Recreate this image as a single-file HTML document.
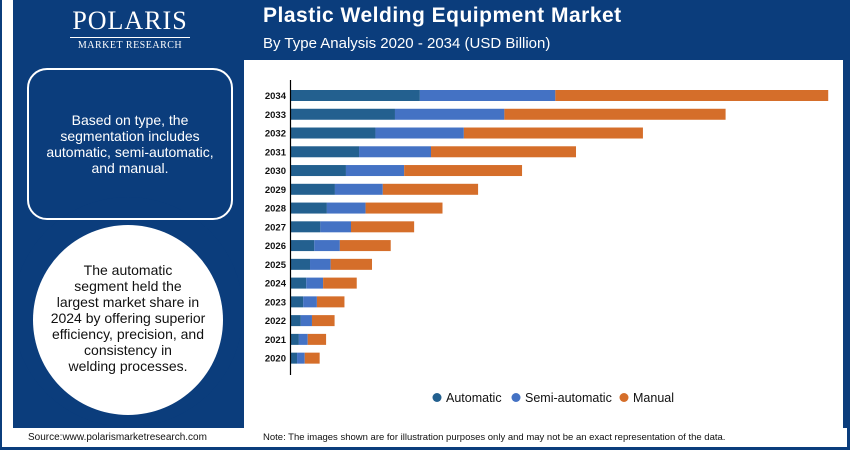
<!DOCTYPE html>
<html><head><meta charset="utf-8">
<style>
body{margin:0;width:850px;height:450px;overflow:hidden;background:#0b3d7c;font-family:"Liberation Sans",sans-serif;position:relative}
.abs{position:absolute}
</style></head><body>
<div class="abs" style="left:2px;top:0;width:11px;height:428px;background:#fff"></div>
<div class="abs" style="left:244px;top:60px;width:599px;height:368px;background:#fff"></div>
<div class="abs" style="left:13px;top:197px;width:230px;height:230px;border-radius:50%;background:#0b3d7c"></div>
<div class="abs" style="left:2px;top:428px;width:845px;height:19px;background:#fff"></div>
<div class="abs" style="left:60px;top:8px;width:140px;text-align:center;color:#fff">
<div style="font-family:'Liberation Serif',serif;font-size:26px;letter-spacing:1px;line-height:26px">POLARIS</div>
<div style="border-top:1px solid #fff;margin:3px 10px 0;font-family:'Liberation Serif',serif;font-size:10px;padding-top:2px;letter-spacing:0.5px">MARKET RESEARCH</div></div>
<div class="abs" style="left:263px;top:4px;color:#fff;font-weight:bold;font-size:21px;letter-spacing:0.5px">Plastic Welding Equipment Market</div>
<div class="abs" style="left:263px;top:35px;color:#fff;font-size:15px">By Type Analysis 2020 - 2034 (USD Billion)</div>
<div class="abs" style="left:27px;top:68px;width:202px;height:148px;border:2px solid #fff;border-radius:20px;color:#fff;font-size:14px;line-height:16px;text-align:center;display:flex;align-items:center;justify-content:center"><div style="width:178px">Based on type, the segmentation includes automatic, semi-automatic, and manual.</div></div>
<div class="abs" style="left:33px;top:225px;width:190px;height:190px;border-radius:50%;background:#fff;color:#111;font-size:14px;line-height:16px;text-align:center;display:flex;align-items:center;justify-content:center"><div style="width:166px;margin-top:-4px">The automatic<br>segment held the<br>largest market share in<br>2024 by offering superior<br>efficiency, precision, and<br>consistency in<br>welding processes.</div></div>
<div class="abs" style="left:28px;top:432px;font-size:10px;color:#111">Source:www.polarismarketresearch.com</div>
<div class="abs" style="left:263px;top:432px;font-size:9.5px;color:#111">Note: The images shown are for illustration purposes only and may not be an exact representation of the data.</div>
<svg class="abs" style="left:0;top:0" width="850" height="450" id="chart"></svg>
<script>
const years=["2034","2033","2032","2031","2030","2029","2028","2027","2026","2025","2024","2023","2022","2021","2020"];
const automatic=[11.27,9.1,7.4,5.97,4.83,3.87,3.17,2.6,2.07,1.7,1.37,1.1,0.9,0.73,0.57];
const semiAutomatic=[11.8,9.53,7.7,6.27,5.07,4.17,3.37,2.67,2.23,1.8,1.47,1.2,0.97,0.77,0.67];
const manual=[23.77,19.27,15.6,12.63,10.27,8.3,6.7,5.5,4.43,3.6,2.93,2.4,1.97,1.6,1.3];
const seriesNames=["Automatic","Semi-automatic","Manual"];
const colors=["#23608f","#4472c4","#d56e2a"];
const svg=document.getElementById('chart');const NS="http://www.w3.org/2000/svg";
const x0=290.5,pxPer=11.48,y0=90,step=18.76,bh=11;
const xs=v=>x0+v*pxPer, ys=i=>y0+i*step;
function mk(t,a){const e=document.createElementNS(NS,t);for(const k in a)e.setAttribute(k,a[k]);svg.appendChild(e);return e;}
const series=[automatic,semiAutomatic,manual];
years.forEach((y,i)=>{let acc=0;
 series.forEach((s,j)=>{const r=mk('rect',{x:xs(acc),y:ys(i),width:s[i]*pxPer,height:bh,fill:colors[j]});
 
 acc+=s[i];});
 const t=mk('text',{x:286,y:ys(i)+bh/2+3.5,'text-anchor':'end','font-size':'9.5','font-weight':'bold',fill:'#111','font-family':'Liberation Sans'});t.textContent=y;
 
 });
const ax=mk('line',{x1:x0,y1:80,x2:x0,y2:375,stroke:'#000','stroke-width':1.2});


const lx=[437,516,624];
seriesNames.forEach((n,j)=>{const c=mk('circle',{cx:lx[j],cy:397.5,r:4.5,fill:colors[j]});
 
 
 const t=mk('text',{x:lx[j]+9,y:402,'font-size':'12.5',fill:'#111','font-family':'Liberation Sans'});t.textContent=n;
 
 });
</script>
</body></html>
